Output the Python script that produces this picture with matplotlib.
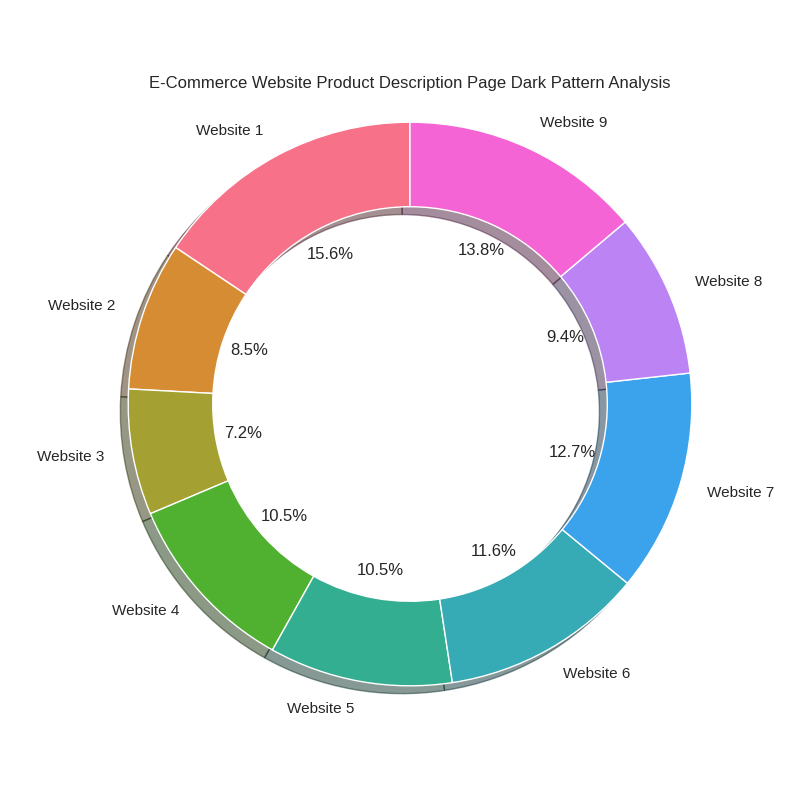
import matplotlib
matplotlib.use('Agg')
import matplotlib.pyplot as plt
import seaborn as sns

sns.set_style('whitegrid')
plt.rcParams['font.family'] = ['Liberation Sans', 'DejaVu Sans']

# input data
websites = ['Website 1', 'Website 2', 'Website 3', 'Website 4', 'Website 5',
            'Website 6', 'Website 7', 'Website 8', 'Website 9']
shares = [15.6, 8.5, 7.2, 10.5, 10.5, 11.6, 12.7, 9.4, 13.8]

colors = sns.color_palette('husl', len(websites))

fig, ax = plt.subplots(figsize=(8, 8), dpi=100)
wedges, texts, autotexts = ax.pie(shares, labels=websites, colors=colors,
                                  autopct='%1.1f%%', startangle=90,
                                  shadow=True,
                                  wedgeprops=dict(width=0.3, edgecolor='white'))
for t in texts:
    t.set_fontsize(11)
for t in autotexts:
    t.set_fontsize(12)
ax.axis('equal')
ax.set_title('E-Commerce Website Product Description Page Dark Pattern Analysis')

plt.savefig('out.png')
